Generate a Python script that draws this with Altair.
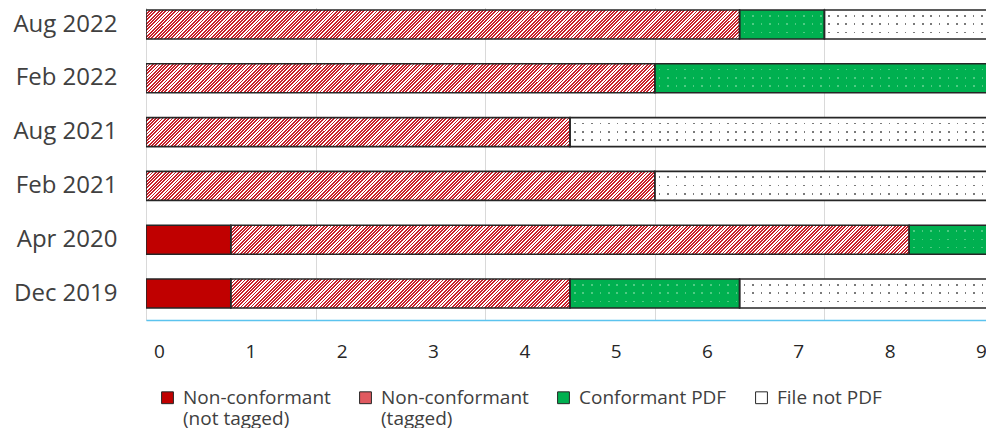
import altair as alt
import pandas as pd

# ---------------- data ----------------
rows = ["Aug 2022", "Feb 2022", "Aug 2021", "Feb 2021", "Apr 2020", "Dec 2019"]
not_tagged = [0, 0, 0, 0, 1, 1]
tagged = [7, 6, 5, 6, 8, 4]
conformant = [1, 4, 0, 0, 1, 2]
not_pdf = [2, 0, 5, 4, 0, 3]
categories = ["Non-conformant (not tagged)", "Non-conformant (tagged)",
              "Conformant PDF", "File not PDF"]
colors = ["#C00000", "#E05A60", "#00B050", "#FFFFFF"]
x_tick_labels = [0, 1, 2, 3, 4, 5, 6, 7, 8, 9]
grid_values = [0, 2, 4, 6, 8]

# ---------------- layout constants ----------------
Y_AXIS_W = 138
PLOT_W = 840          # visible part of the plot (page is cropped at the right)
PLOT_H = 312
BOTTOM_PAD = 108
PX = 84.8             # pixels per unit
X_MAX = 10
X_VIEW = PLOT_W / PX  # visible domain end
P_IN, P_OUT, ALIGN = 0.461, 0.130, 0.143
STEP = PLOT_H / (len(rows) - P_IN + 2 * P_OUT)
BAND_H = STEP * (1 - P_IN)
FONT = "Open Sans"
TXT = "#404040"
TRANSP = "rgba(0,0,0,0)"
LBL0, LBL_UNIT = 13.0, 91.33  # pixel position of label 0 and label spacing

# ---------------- tables ----------------
recs = []
for i, r in enumerate(rows):
    start = 0
    for c, vals in zip(categories, [not_tagged, tagged, conformant, not_pdf]):
        v = vals[i]
        if v > 0:
            recs.append(dict(row=r, cat=c, start=start, end=start + v, value=v))
        start += v
seg = pd.DataFrame(recs)
seg["seg"] = range(len(seg))
totals = pd.DataFrame({"row": rows,
                       "start": [0] * len(rows),
                       "end": [a + b + c + d for a, b, c, d in zip(not_tagged, tagged, conformant, not_pdf)]})
ticks_df = pd.DataFrame({"v": x_tick_labels})


def r5(x):
    return round(min(max(x, 0.0), 1.0), 5)


def hatch_grad(w, h, period=3.3, duty=0.55, c1="#C8202A", c2="#FFFFFF"):
    L = w + h
    a = L / (w + h * h / w)
    b = a * h / w
    stops = []
    k = 0
    while k * period < L:
        t0 = k * period / L
        t1 = (k * period + period * duty) / L
        t2 = (k + 1) * period / L
        stops += [{"offset": r5(t0), "color": c1}, {"offset": r5(t1), "color": c1},
                  {"offset": r5(t1), "color": c2}, {"offset": r5(t2), "color": c2}]
        k += 1
    return {"gradient": "linear", "x1": 0, "y1": 0, "x2": round(a, 5), "y2": round(b, 5), "stops": stops}


def vstripes(w, color, spacing=8.5, dot=1.6, phase=4.0):
    stops = [{"offset": 0, "color": TRANSP}]
    p = phase
    while p + dot < w - 1:
        t0, t1 = r5(p / w), r5((p + dot) / w)
        stops += [{"offset": t0, "color": TRANSP}, {"offset": t0, "color": color},
                  {"offset": t1, "color": color}, {"offset": t1, "color": TRANSP}]
        p += spacing
    stops.append({"offset": 1, "color": TRANSP})
    return {"gradient": "linear", "x1": 0, "y1": 0, "x2": 1, "y2": 0, "stops": stops}


def hmask(h, color, ys=(5.0, 13.3, 21.6), dot=1.6):
    stops = [{"offset": 0, "color": color}]
    for y in ys:
        t0, t1 = r5(y / h), r5((y + dot) / h)
        stops += [{"offset": t0, "color": color}, {"offset": t0, "color": TRANSP},
                  {"offset": t1, "color": TRANSP}, {"offset": t1, "color": color}]
    stops.append({"offset": 1, "color": color})
    return {"gradient": "linear", "x1": 0, "y1": 0, "x2": 0, "y2": 1, "stops": stops}


# ---------------- shared encodings ----------------
y_enc = alt.Y("row:N", sort=rows, title=None,
              scale=alt.Scale(paddingInner=P_IN, paddingOuter=P_OUT, align=ALIGN),
              axis=alt.Axis(labelFontSize=24, labelFont=FONT, labelColor=TXT, ticks=False,
                            domain=False, labelPadding=29, minExtent=Y_AXIS_W, maxExtent=Y_AXIS_W))
x_scale = alt.Scale(domain=[0, X_VIEW], nice=False, zero=False)
x_enc = alt.X("start:Q", scale=x_scale, title=None,
              axis=alt.Axis(values=grid_values, grid=True, gridColor="#D9D9D9", gridWidth=1,
                            labels=False, ticks=False, domain=False, orient="bottom"))
x2_enc = alt.X2("end:Q")

# 1. hatch background (tagged pattern)
hatch = alt.Chart(totals).mark_bar(
    fill=hatch_grad(X_MAX * PX, BAND_H), strokeWidth=0, clip=True
).encode(x=x_enc, x2=x2_enc, y=y_enc)

# 2. solid segments (legend source)
solid = alt.Chart(seg).transform_filter(
    alt.datum.cat != categories[1]
).mark_bar(clip=True).encode(
    x=x_enc, x2=x2_enc, y=y_enc,
    fill=alt.Fill("cat:N", scale=alt.Scale(domain=categories, range=colors),
                  legend=alt.Legend(
                      title=None, orient="none", legendX=12, legendY=380,
                      direction="horizontal", columns=4, gridAlign="all", columnPadding=25,
                      symbolType="square", symbolSize=140, symbolStrokeColor="#262626",
                      symbolStrokeWidth=1, labelFont=FONT, labelFontSize=19, labelColor=TXT,
                      labelOffset=6, labelLimit=400, padding=0,
                      labelExpr="indexof(datum.label, ' (') > 0 ? [slice(datum.label, 0, indexof(datum.label, ' (')), slice(datum.label, indexof(datum.label, ' (') + 1)] : [datum.label, '']"
                  ))
)

# 3. dotted pattern: dot columns, then row mask
dot_seg = seg[seg["cat"].isin([categories[2], categories[3]])]
vconds = []
for _, s in dot_seg.iterrows():
    col = "#7A7A7A" if s["cat"] == categories[3] else "#4FCB83"
    vconds.append({"test": f"datum.seg === {int(s['seg'])}", "value": vstripes(s["value"] * PX, col)})
dots = alt.Chart(dot_seg).mark_bar(strokeWidth=0, clip=True).encode(
    x=x_enc, x2=x2_enc, y=y_enc,
    fill={"condition": vconds, "value": TRANSP}
)
mask = alt.Chart(dot_seg).mark_bar(strokeWidth=0, clip=True).encode(
    x=x_enc, x2=x2_enc, y=y_enc,
    fill={"condition": [{"test": f"datum.cat === '{categories[2]}'", "value": hmask(BAND_H, colors[2])}],
          "value": hmask(BAND_H, colors[3])}
)

# 4. outlines
outline = alt.Chart(seg).mark_bar(fillOpacity=0, stroke="#262626", strokeWidth=1.6, clip=True).encode(
    x=x_enc, x2=x2_enc, y=y_enc
)

# 5. tick-label axis
labels_layer = alt.Chart(ticks_df).mark_point(opacity=0).encode(
    x=alt.X("v:Q", title=None,
            scale=alt.Scale(domain=[-LBL0 / LBL_UNIT, (PLOT_W - LBL0) / LBL_UNIT], nice=False, zero=False),
            axis=alt.Axis(values=x_tick_labels, orient="bottom", grid=False, ticks=False,
                          domainColor="#5BC3EE", domainWidth=1.5, labelFont=FONT,
                          labelFontSize=19, labelColor="#262626", labelPadding=22,
                          labelFlush=False, labelOverlap=False, format="d"))
)

chart = alt.layer(hatch, solid, dots, mask, outline, labels_layer).resolve_scale(
    x="independent"
).properties(
    width=PLOT_W, height=PLOT_H,
    autosize=alt.AutoSizeParams(type="none"),
    padding={"left": Y_AXIS_W, "top": 0, "right": 0, "bottom": BOTTOM_PAD},
    background="white"
).configure_view(stroke=None)

chart.save("out.html", embed_options={"renderer": "svg", "actions": False})
